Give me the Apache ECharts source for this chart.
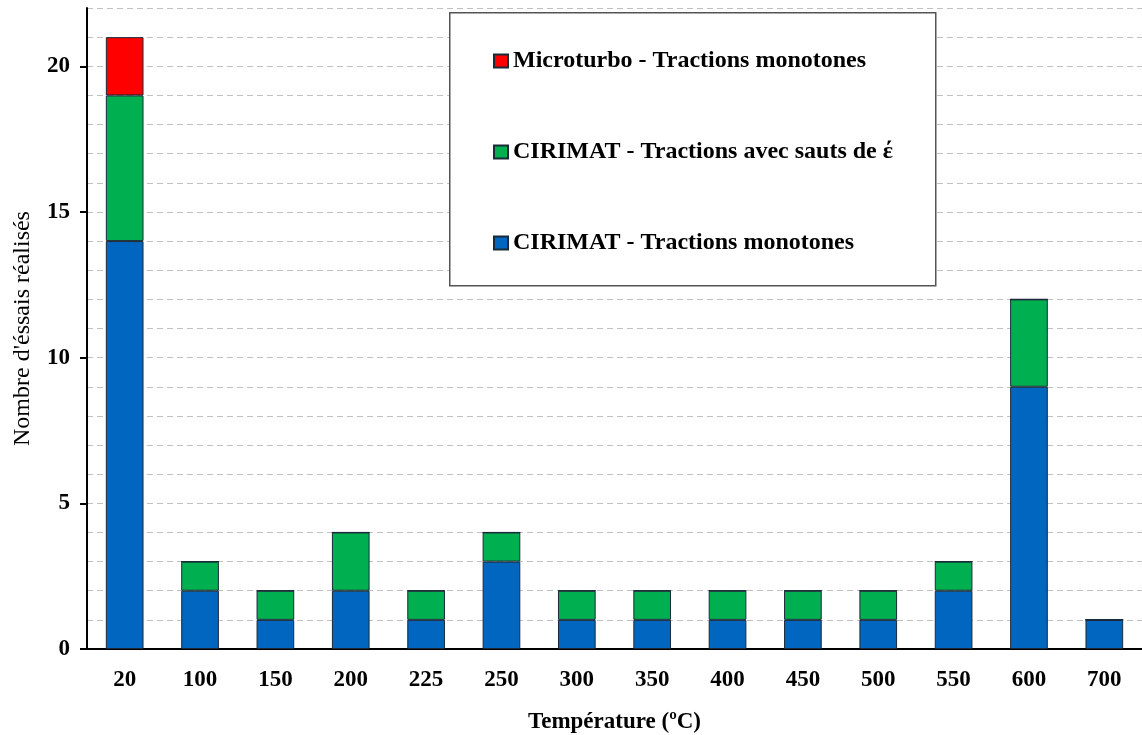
<!DOCTYPE html>
<html><head><meta charset="utf-8">
<script src="https://cdn.jsdelivr.net/npm/echarts@6/dist/echarts.min.js"></script>
<style>html,body{margin:0;padding:0;background:#fff}#c{width:1142px;height:735px}</style>
</head><body><div id="c"></div>
<script>
const categories = ['20','100','150','200','225','250','300','350','400','450','500','550','600','700'];
const cirimatMonotones = [14,2,1,2,1,3,1,1,1,1,1,2,9,1];
const cirimatSauts = [5,1,1,2,1,1,1,1,1,1,1,1,3,0];
const microturbo = [2,0,0,0,0,0,0,0,0,0,0,0,0,0];
const yTicks = [0,5,10,15,20];
const names = ['CIRIMAT - Tractions monotones','CIRIMAT - Tractions avec sauts de \u03B5\u0301','Microturbo - Tractions monotones'];
const legendNames = ['Microturbo - Tractions monotones','CIRIMAT - Tractions avec sauts de \u03B5\u0301','CIRIMAT - Tractions monotones'];
const font = '"Liberation Serif","Times New Roman",serif';
const chart = echarts.init(document.getElementById('c'));
const bar = (name, data, color) => ({
  name, type:'bar', stack:'s', data, barWidth:'50%',
  itemStyle:{color, borderColor:'#1a2a38', borderWidth:1},
  emphasis:{disabled:true}
});
chart.setOption({
  animation:false,
  grid:{left:87,right:0,top:8,bottom:86,outerBoundsMode:'none'},
  graphic:[{type:'rect',left:449,top:12,shape:{width:486,height:273},style:{fill:'#fff',stroke:'#555',lineWidth:1.5},z:50}],
  legend:{
    data:legendNames, orient:'vertical', left:488, top:44, itemGap:67,
    itemWidth:14, itemHeight:13, z:60,
    icon:'rect',
    textStyle:{fontFamily:font,fontWeight:'bold',fontSize:24,color:'#000'}
  },
  xAxis:{
    type:'category', data:categories,
    axisLine:{lineStyle:{color:'#000',width:2}},
    axisTick:{show:false},
    axisLabel:{fontFamily:font,fontWeight:'bold',fontSize:23,color:'#000',margin:20},
    name:'Température (ºC)', nameLocation:'middle', nameGap:62,
    nameTextStyle:{fontFamily:font,fontWeight:'bold',fontSize:23,color:'#000'}
  },
  yAxis:[{
    type:'value', min:0, max:22, interval:1,
    axisLine:{show:true,lineStyle:{color:'#000',width:2}},
    axisTick:{show:true,inside:false,length:7,customValues:yTicks,lineStyle:{color:'#000',width:2}},
    axisLabel:{customValues:yTicks,fontFamily:font,fontWeight:'bold',fontSize:23,color:'#000',margin:17},
    splitLine:{show:false},
    name:"Nombre d'éssais réalisés", nameLocation:'middle', nameGap:52, nameRotate:90,
    nameTextStyle:{fontFamily:font,fontSize:24,color:'#000'}
  },{
    type:'value', min:0, max:22, interval:1, position:'left',
    axisLine:{show:false}, axisTick:{show:false}, axisLabel:{show:false},
    splitLine:{show:true,lineStyle:{color:'#c0c0c0',type:[6,4],width:1}}
  }],
  series:[
    bar(names[0], cirimatMonotones, '#0066bf'),
    bar(names[1], cirimatSauts, '#00b050'),
    bar(names[2], microturbo, '#ff0000')
  ]
});
</script></body></html>
